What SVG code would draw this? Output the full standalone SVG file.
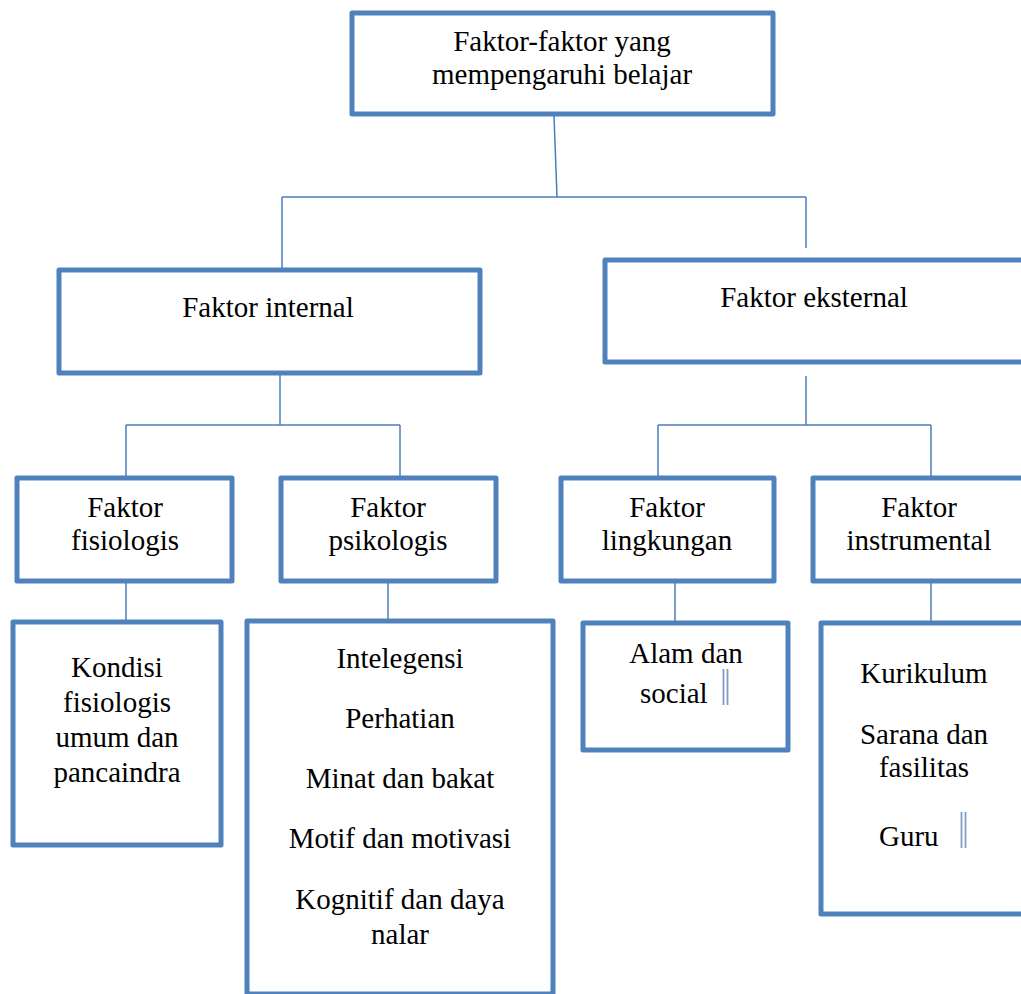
<svg xmlns="http://www.w3.org/2000/svg" width="1021" height="994" viewBox="0 0 1021 994">
<style>
.box{fill:#fff;stroke:#4f81bd;stroke-width:5;stroke-linejoin:round}
.ln{fill:none;stroke:#4a7ebb;stroke-width:1.5}
.t{font-family:"Liberation Serif","Times New Roman",serif;font-size:29px;fill:#000;text-anchor:middle}
.ts{font-family:"Liberation Serif","Times New Roman",serif;font-size:29px;fill:#000}
.bar{stroke:#7f9cc4;stroke-width:1.8}
</style>
<rect width="1021" height="994" fill="#fff"/>
<g id="connectors">
<path class="ln" d="M554,116 L557,197 M282,197 L806,197 M282,197 L282,269 M806,197 L806,248"/>
<path class="ln" d="M280,374 L280,425 M126,425 L400,425 M126,425 L126,477 M400,425 L400,477"/>
<path class="ln" d="M806,376 L806,425 M658,425 L931,425 M658,425 L658,477 M931,425 L931,477"/>
<path class="ln" d="M126,581 L126,621 M388,581 L388,620 M675,581 L675,622 M931,581 L931,622"/>
</g>
<g id="root">
<rect class="box" x="352" y="13" width="421" height="101"/>
<text class="t" x="562" y="51">Faktor-faktor yang</text>
<text class="t" x="562" y="84">mempengaruhi belajar</text>
</g>
<g id="internal">
<rect class="box" x="59" y="270" width="421" height="103"/>
<text class="t" x="268" y="317">Faktor internal</text>
</g>
<g id="eksternal">
<rect class="box" x="605" y="260" width="430" height="102"/>
<text class="t" x="814" y="307">Faktor eksternal</text>
</g>
<g id="fisiologis">
<rect class="box" x="17" y="478" width="215" height="103"/>
<text class="t" x="125" y="517">Faktor</text>
<text class="t" x="125" y="550">fisiologis</text>
</g>
<g id="psikologis">
<rect class="box" x="281" y="478" width="215" height="103"/>
<text class="t" x="388" y="517">Faktor</text>
<text class="t" x="388" y="550">psikologis</text>
</g>
<g id="lingkungan">
<rect class="box" x="561" y="478" width="213" height="103"/>
<text class="t" x="667" y="517">Faktor</text>
<text class="t" x="667" y="550">lingkungan</text>
</g>
<g id="instrumental">
<rect class="box" x="813" y="478" width="220" height="103"/>
<text class="t" x="919" y="517">Faktor</text>
<text class="t" x="919" y="550">instrumental</text>
</g>
<g id="kondisi">
<rect class="box" x="13" y="622" width="208" height="223"/>
<text class="t" x="117" y="677">Kondisi</text>
<text class="t" x="117" y="712">fisiologis</text>
<text class="t" x="117" y="747">umum dan</text>
<text class="t" x="117" y="782">pancaindra</text>
</g>
<g id="psikologis-list">
<rect class="box" x="247" y="621" width="306" height="373"/>
<text class="t" x="400" y="668">Intelegensi</text>
<text class="t" x="400" y="728">Perhatian</text>
<text class="t" x="400" y="788">Minat dan bakat</text>
<text class="t" x="400" y="848">Motif dan motivasi</text>
<text class="t" x="400" y="909">Kognitif dan daya</text>
<text class="t" x="400" y="944">nalar</text>
</g>
<g id="alam">
<rect class="box" x="583" y="623" width="205" height="127"/>
<text class="t" x="686" y="663">Alam dan</text>
<text class="ts" x="640" y="703">social</text>
<line class="bar" x1="723.5" y1="669" x2="723.5" y2="705"/>
<line class="bar" x1="727.5" y1="669" x2="727.5" y2="705"/>
</g>
<g id="instrumental-list">
<rect class="box" x="821" y="623" width="215" height="291"/>
<text class="t" x="924" y="683">Kurikulum</text>
<text class="t" x="924" y="744">Sarana dan</text>
<text class="t" x="924" y="777">fasilitas</text>
<text class="ts" x="879" y="846">Guru</text>
<line class="bar" x1="961.5" y1="812" x2="961.5" y2="848"/>
<line class="bar" x1="965.5" y1="812" x2="965.5" y2="848"/>
</g>
</svg>
